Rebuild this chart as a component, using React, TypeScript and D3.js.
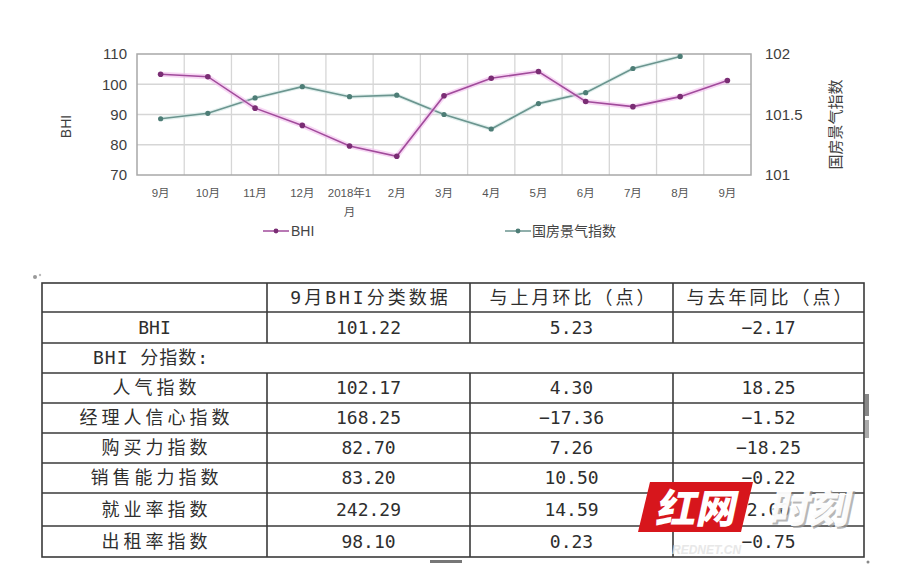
import * as d3 from "d3";

const months = ["9月", "10月", "11月", "12月", "2018年1\n月", "2月", "3月", "4月", "5月", "6月", "7月", "8月", "9月"];
const bhi = [103.3, 102.5, 92.1, 86.4, 79.6, 76.2, 96.2, 102.0, 104.2, 94.3, 92.6, 95.9, 101.22];
const national: (number | null)[] = [101.465, 101.51, 101.637, 101.73, 101.647, 101.66, 101.5, 101.38, 101.59, 101.68, 101.88, 101.98, null];

const tableHeader = ["", "9月BHI分类数据", "与上月环比（点）", "与去年同比（点）"];
const indexNames = ["人气指数", "经理人信心指数", "购买力指数", "销售能力指数", "就业率指数", "出租率指数"];
const septValues = [102.17, 168.25, 82.7, 83.2, 242.29, 98.1];
const momValues = [4.3, -17.36, 7.26, 10.5, 14.59, 0.23];
const yoyValues = [18.25, -1.52, -18.25, -0.22, 2.0, -0.75];
const bhiRow = { name: "BHI", sept: 101.22, mom: 5.23, yoy: -2.17 };

const W = 901;
const H = 580;
const plot = { left: 137, right: 751, top: 54, bottom: 175 };

const BHI_COLOR = "#a14b9b";
const BHI_DOT = "#7a2d74";
const NAT_COLOR = "#6b958f";
const NAT_DOT = "#4d7d76";

const fmt = d3.format(".2f");

export default function App() {
  const x = d3.scaleBand<number>().domain(d3.range(months.length)).range([plot.left, plot.right]);
  const yL = d3.scaleLinear().domain([70, 110]).range([plot.bottom, plot.top]);
  const yR = d3.scaleLinear().domain([101, 102]).range([plot.bottom, plot.top]);
  const cx = (i: number) => (x(i) ?? 0) + x.bandwidth() / 2;

  const bhiLine = d3.line<number>().x((_, i) => cx(i)).y((d) => yL(d));
  const natPts = national.map((v, i) => [i, v] as [number, number | null]).filter((d) => d[1] != null) as [number, number][];
  const natLine = d3.line<[number, number]>().x((d) => cx(d[0])).y((d) => yR(d[1]));

  // table layout
  const colX = [42, 267, 470, 673, 864];
  const rowY = [283, 312, 343, 373, 403, 433, 463, 493, 526, 557];
  const colMid = (c: number) => (colX[c] + colX[c + 1]) / 2;
  const rowMid = (r: number) => (rowY[r] + rowY[r + 1]) / 2;
  const tableFont = "'DejaVu Sans Mono', 'Noto Sans CJK SC', monospace";
  const cjk = (s: string) => /[\u4e00-\u9fff]/.test(s);

  const bodyRows = [
    [bhiRow.name, fmt(bhiRow.sept), fmt(bhiRow.mom), fmt(bhiRow.yoy)],
    null,
    ...indexNames.map((n, i) => [n, fmt(septValues[i]), fmt(momValues[i]), fmt(yoyValues[i])]),
  ];

  const sans = "'Liberation Sans', Arial, 'Noto Sans CJK SC', sans-serif";

  return (
    <>
      <style>{`body{margin:0;background:#fff}`}</style>
      <svg width={W} height={H} style={{ display: "block" }}>
        <rect width={W} height={H} fill="#fff" />

        {/* grid */}
        {yL.ticks(4).filter((t) => t > 70 && t < 110).map((t) => (
          <line key={"h" + t} x1={plot.left} x2={plot.right} y1={yL(t)} y2={yL(t)} stroke="#d6d6d6" strokeWidth={1.3} />
        ))}
        {months.map((_, i) => i > 0 && (
          <line key={"v" + i} x1={x(i)} x2={x(i)} y1={plot.top} y2={plot.bottom} stroke="#d6d6d6" strokeWidth={1.3} />
        ))}
        <rect x={plot.left} y={plot.top} width={plot.right - plot.left} height={plot.bottom - plot.top} fill="none" stroke="#a8a8a8" strokeWidth={1.5} />

        {/* left axis */}
        {yL.ticks(4).map((t) => (
          <text key={"l" + t} x={plot.left - 10} y={yL(t)} dy="0.35em" textAnchor="end" fontFamily={sans} fontSize={15} fill="#3e3e3e">{t}</text>
        ))}
        <text transform={`translate(71,${(plot.top + plot.bottom) / 2 + 12}) rotate(-90)`} textAnchor="middle" fontFamily={sans} fontSize={14} fill="#3e3e3e">BHI</text>

        {/* right axis */}
        {[101, 101.5, 102].map((t) => (
          <text key={"r" + t} x={plot.right + 14} y={yR(t)} dy="0.35em" fontFamily={sans} fontSize={15} fill="#3e3e3e">{t}</text>
        ))}
        <text transform={`translate(841,${(plot.top + plot.bottom) / 2 + 10}) rotate(-90)`} textAnchor="middle" fontFamily={sans} fontSize={15} fill="#3e3e3e">国房景气指数</text>

        {/* x labels */}
        {months.map((m, i) => (
          <text key={"x" + i} x={cx(i)} y={197} textAnchor="middle" fontFamily={sans} fontSize={11.5} fill="#555">
            {m.split("\n").map((s, k) => (
              <tspan key={k} x={cx(i)} dy={k === 0 ? 0 : 19}>{s}</tspan>
            ))}
          </text>
        ))}

        {/* national line */}
        <path d={natLine(natPts) ?? ""} fill="none" stroke="#cfe6e2" strokeWidth={4} opacity={0.6} />
        <path d={natLine(natPts) ?? ""} fill="none" stroke={NAT_COLOR} strokeWidth={1.6} />
        {natPts.map((d) => (
          <circle key={"n" + d[0]} cx={cx(d[0])} cy={yR(d[1])} r={2.6} fill={NAT_DOT} />
        ))}

        {/* BHI line */}
        <path d={bhiLine(bhi) ?? ""} fill="none" stroke="#f2bdec" strokeWidth={5} opacity={0.6} />
        <path d={bhiLine(bhi) ?? ""} fill="none" stroke={BHI_COLOR} strokeWidth={1.6} />
        {bhi.map((v, i) => (
          <circle key={"b" + i} cx={cx(i)} cy={yL(v)} r={2.8} fill={BHI_DOT} />
        ))}

        {/* legend */}
        <line x1={263} x2={289} y1={231} y2={231} stroke={BHI_COLOR} strokeWidth={1.5} />
        <circle cx={276} cy={231} r={2.4} fill={BHI_DOT} />
        <text x={291} y={231} dy="0.35em" fontFamily={sans} fontSize={14} fill="#444">BHI</text>
        <line x1={505} x2={531} y1={231} y2={231} stroke={NAT_COLOR} strokeWidth={1.5} />
        <circle cx={518} cy={231} r={2.4} fill={NAT_DOT} />
        <text x={532} y={231} dy="0.35em" fontFamily={sans} fontSize={14} fill="#444">国房景气指数</text>

        {/* table */}
        <g stroke="#3a3a3a" strokeWidth={1.6}>
          <rect x={colX[0]} y={rowY[0]} width={colX[4] - colX[0]} height={rowY[9] - rowY[0]} fill="none" />
          {rowY.slice(1, -1).map((y, i) => (
            <line key={"ty" + i} x1={colX[0]} x2={colX[4]} y1={y} y2={y} />
          ))}
          {colX.slice(1, -1).map((cxv, i) => (
            <g key={"tx" + i}>
              <line x1={cxv} x2={cxv} y1={rowY[0]} y2={rowY[2]} />
              <line x1={cxv} x2={cxv} y1={rowY[3]} y2={rowY[9]} />
            </g>
          ))}
        </g>
        {tableHeader.map((h, c) => (
          <text key={"th" + c} x={colMid(c) + 2} y={rowMid(0)} dy="0.36em" textAnchor="middle" fontFamily={tableFont} fontSize={18} letterSpacing={3} fill="#2e2e2e">{h}</text>
        ))}
        {bodyRows.map((row, r) =>
          row ? (
            row.map((cell, c) => (
              <text key={`td${r}-${c}`} x={colMid(c) + (cjk(cell) ? 2 : 0)} y={rowMid(r + 1)} dy="0.36em" textAnchor="middle" fontFamily={tableFont} fontSize={18} letterSpacing={cjk(cell) ? 4 : 0} fill="#2e2e2e">{cell}</text>
            ))
          ) : (
            <text key={"sub" + r} x={93} y={rowMid(r + 1)} dy="0.36em" fontFamily={tableFont} fontSize={18} letterSpacing={1} fill="#2e2e2e">BHI 分指数:</text>
          )
        )}

        {/* page marks */}
        <circle cx={35} cy={277} r={2} fill="#999" />
        <circle cx={40} cy={275} r={1.2} fill="#bbb" />
        <rect x={430} y={560} width={32} height={3} fill="#777" />
        <rect x={865} y={394} width={4} height={22} fill="#888" />
        <rect x={865} y={420} width={4} height={18} fill="#aaa" />
        <circle cx={868} cy={562} r={1.5} fill="#888" />

        {/* watermark */}
        <polygon points="650,482 753,482 741,532 638,532" fill="#d7161c" />
        <text x={695} y={523} textAnchor="middle" fontFamily="'Noto Sans CJK SC', sans-serif" fontWeight={900} fontSize={40} fill="#fff" transform="skewX(-12)" style={{ transformOrigin: "695px 523px" }}>红网</text>
        <text x={810} y={525} textAnchor="middle" fontFamily="'Noto Sans CJK SC', sans-serif" fontWeight={900} fontSize={40} fill="#9a9a9a" opacity={0.7} transform="skewX(-12)" style={{ transformOrigin: "810px 525px" }}>时刻</text>
        <text x={808} y={523} textAnchor="middle" fontFamily="'Noto Sans CJK SC', sans-serif" fontWeight={900} fontSize={40} fill="#fff" opacity={0.95} transform="skewX(-12)" style={{ transformOrigin: "808px 523px" }}>时刻</text>
        <text x={672} y={554} fontFamily={sans} fontStyle="italic" fontWeight={700} fontSize={12} fill="#e4e4e4" opacity={0.85}>REDNET.CN</text>
      </svg>
    </>
  );
}
